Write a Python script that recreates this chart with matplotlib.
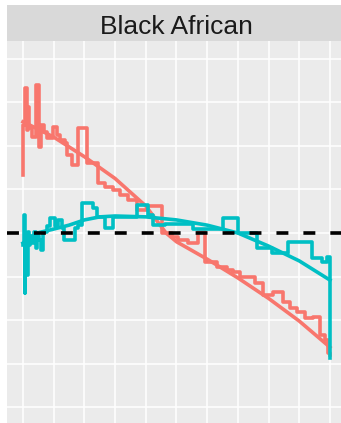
import matplotlib
matplotlib.use('Agg')
import matplotlib.pyplot as plt
from matplotlib.patches import Rectangle

# step curves (x in grid units 0..10, y in grid units, 0 = reference line)
red_step_x = [0, 0.01, 0.07, 0.13, 0.16, 0.21, 0.29, 0.42, 0.52, 0.59, 0.68, 0.78, 0.98, 1.11, 1.21,
              1.37, 1.43, 1.60, 1.79, 2.08, 2.44, 2.67, 2.93, 3.16, 3.42, 3.71, 4.04, 4.53, 4.86, 5.05,
              5.37, 5.70, 5.93, 6.32, 6.65, 6.84, 7.07, 7.56, 7.82, 8.14, 8.47, 8.70, 8.93, 9.19, 9.45,
              9.67, 9.84, 9.93, 10.0]
red_step_y = [1.33, 2.48, 3.33, 2.36, 2.89, 2.41, 2.20, 3.39, 1.97, 2.48, 2.32, 2.18, 2.43, 2.25, 2.13,
              2.06, 1.79, 1.56, 2.41, 1.61, 1.15, 1.06, 0.99, 0.87, 0.76, 0.53, 0.62, 0.0, -0.09, -0.16,
              -0.23, 0.02, -0.67, -0.78, -0.85, -0.89, -1.01, -1.15, -1.42, -1.35, -1.58, -1.72, -1.81,
              -1.95, -1.93, -2.34, -2.45, -2.75, -2.80]

teal_step_x = [0, 0.02, 0.05, 0.08, 0.11, 0.15, 0.20, 0.23, 0.29, 0.36, 0.42, 0.47, 0.52, 0.59, 0.65,
               0.78, 0.88, 1.04, 1.14, 1.27, 1.34, 1.69, 1.79, 1.92, 2.28, 2.41, 2.67, 2.93, 3.71, 4.07,
               4.23, 4.62, 5.54, 6.51, 7.00, 7.62, 8.11, 8.63, 9.41, 9.74, 9.90, 10.0]
teal_step_y = [-0.28, 0.41, -1.38, -0.16, -0.96, 0.02, -0.28, -0.07, -0.23, 0.02, -0.34, -0.07, -0.16,
               -0.39, 0.02, 0.16, 0.34, 0.16, 0.30, 0.11, -0.16, 0.11, 0.18, 0.69, 0.57, 0.37, 0.11,
               0.37, 0.64, 0.41, 0.18, 0.21, 0.09, 0.34, 0.0, -0.34, -0.46, -0.21, -0.57, -0.67, -0.55,
               -2.87]

# smoothed curves
red_smooth_x = [0, 0.5, 1, 2, 3, 4, 4.66, 5, 6, 7, 8, 9, 10]
red_smooth_y = [2.55, 2.38, 2.2, 1.75, 1.25, 0.62, 0.0, -0.2, -0.6, -1.03, -1.5, -2.02, -2.62]
teal_smooth_x = [0, 0.46, 1, 1.5, 2, 2.5, 3, 4, 5, 6, 7, 8, 9, 10]
teal_smooth_y = [-0.23, 0, 0.09, 0.18, 0.3, 0.37, 0.39, 0.37, 0.3, 0.18, 0, -0.3, -0.64, -1.08]

title = 'Black African'
red = '#F8766D'
teal = '#00BFC4'

W, H = 341, 423
plt.rcParams['lines.scale_dashes'] = False
fig = plt.figure(figsize=(W / 100, H / 100), dpi=100)

ax = fig.add_axes([7 / W, 0, 338 / W, 1 - 41 / H])
ax.set_facecolor('#EBEBEB')
ax.set_xlim(-0.521, 10.49)
ax.set_ylim(-4.358, 4.404)
for v in range(0, 11):
    ax.axvline(v, color='white', lw=1.1, zorder=0)
for v in range(-4, 5):
    ax.axhline(v, color='white', lw=1.1, zorder=0)

lw = 2.6
ax.plot(red_step_x, red_step_y, drawstyle='steps-post', color=red, lw=lw, zorder=2)
ax.plot(red_smooth_x, red_smooth_y, color=red, lw=lw, zorder=2)
ax.plot(teal_step_x, teal_step_y, drawstyle='steps-post', color=teal, lw=lw, zorder=2)
ax.plot(teal_smooth_x, teal_smooth_y, color=teal, lw=lw, zorder=2)
ax.axhline(0, color='black', lw=2.6, dashes=(8.6, 10.8), zorder=3)

for s in ax.spines.values():
    s.set_visible(False)
ax.set_xticks([])
ax.set_yticks([])

# facet strip
fig.patches.append(Rectangle((7 / W, 1 - 41 / H), 338 / W, 36 / H, transform=fig.transFigure,
                             facecolor='#D9D9D9', edgecolor='none'))
fig.text(176 / W, 1 - 34 / H, title, ha='center', va='baseline', fontsize=19,
         family='Liberation Sans', color='#1A1A1A')

fig.savefig('out.png', dpi=100)
